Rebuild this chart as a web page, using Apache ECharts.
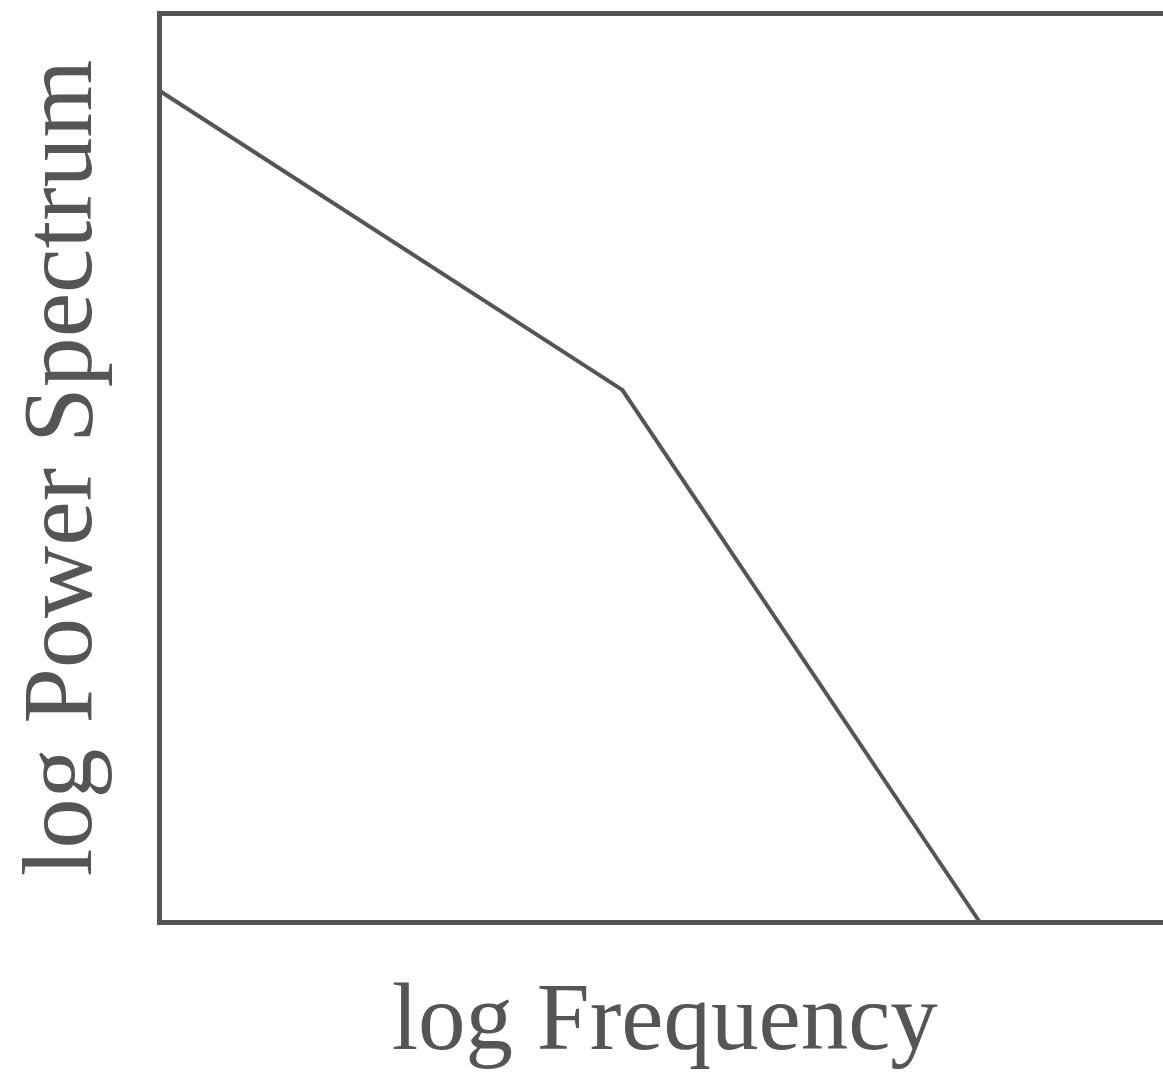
<!DOCTYPE html>
<html>
<head>
<meta charset="utf-8">
<script src="https://cdn.jsdelivr.net/npm/echarts@6/dist/echarts.min.js"></script>
<style>html,body{margin:0;padding:0;background:#fff}#c{width:1163px;height:1073px}</style>
</head>
<body>
<div id="c"></div>
<script>
// Schematic broken power-law spectrum (arbitrary log units)
const logFrequency = [0, 4.58, 8.12];
const logPower = [9.15, 5.86, 0];
const xAxisTitle = 'log Frequency';
const yAxisTitle = 'log Power Spectrum';

const chart = echarts.init(document.getElementById('c'));
const fontFamily = '"Liberation Serif", "DejaVu Serif", serif';
chart.setOption({
  animation: false,
  backgroundColor: '#fff',
  grid: {
    left: 159.5, top: 13.5, bottom: 150.5, right: -7,
    containLabel: false, outerBoundsMode: 'none',
    show: true, borderColor: '#555', borderWidth: 5, backgroundColor: 'transparent'
  },
  xAxis: {
    type: 'value', min: 0, max: 10,
    name: xAxisTitle, nameLocation: 'middle', nameGap: 54,
    nameTextStyle: { fontFamily, fontSize: 95, color: '#555' },
    axisLine: { show: false }, axisTick: { show: false },
    axisLabel: { show: false }, splitLine: { show: false }
  },
  yAxis: {
    type: 'value', min: 0, max: 10,
    name: yAxisTitle, nameLocation: 'middle', nameGap: 45,
    nameTextStyle: { fontFamily, fontSize: 100, color: '#555' },
    axisLine: { show: false }, axisTick: { show: false },
    axisLabel: { show: false }, splitLine: { show: false }
  },
  series: [{
    type: 'line',
    data: logFrequency.map((x, i) => [x, logPower[i]]),
    symbol: 'none',
    lineStyle: { color: '#555', width: 4 },
    clip: false
  }]
});
</script>
</body>
</html>
